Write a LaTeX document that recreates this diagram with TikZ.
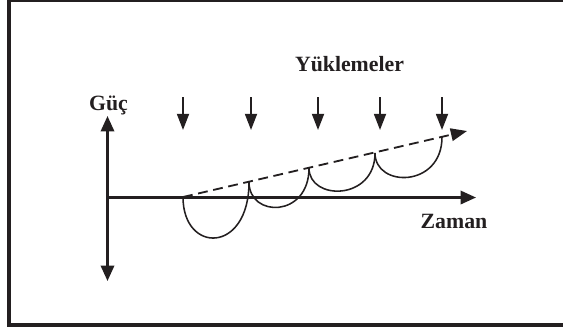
\documentclass[tikz,border=0pt]{standalone}
\usepackage{fontspec}
\setmainfont{Liberation Serif}
\usetikzlibrary{arrows.meta}
\begin{document}
\begin{tikzpicture}[x=0.025cm, y=-0.025cm]
            % Define the colors
            \definecolor{inkcolor}{RGB}{35, 31, 32}

            % Define the styles
            \tikzset{
                axisline/.style={draw=inkcolor, line width=1.7pt, -{Triangle[length=11pt, width=9.5pt]}},
                loadarrow/.style={draw=inkcolor, line width=1.4pt, -{Triangle[length=11.5pt, width=8.5pt]}},
                trendline/.style={draw=inkcolor, line width=1.3pt, dash pattern=on 7pt off 4pt, -{Triangle[length=11.5pt, width=9pt]}},
                swing/.style={draw=inkcolor, line width=1.1pt},
                label/.style={text=inkcolor, font=\fontsize{15.5}{18}\selectfont\bfseries, inner sep=0pt, anchor=base}
            }

            \useasboundingbox (0,0) rectangle (563,332);

            % Draw the frame
            \draw[draw=inkcolor, line width=2.4pt] (9,0.5) rectangle (575,325);

            % Draw the axes
            \coordinate (origin) at (107.5,197.5);
            \coordinate (powertop) at (107.5,116);
            \coordinate (powerbottom) at (107.5,281);
            \coordinate (timeend) at (476,197.5);
            \draw[axisline] (origin) -- (powertop);
            \draw[axisline] (origin) -- (powerbottom);
            \draw[axisline] (origin) -- (timeend);

            % Draw the labels
            \node[label] (guc) at (108.5,110.5) {Güç};
            \node[label] (zaman) at (454,228.3) {Zaman};
            \node[label] (yuklemeler) at (349.5,71.7) {Yüklemeler};

            % Draw the load arrows
            \foreach \i/\x in {1/183, 2/251, 3/318, 4/380, 5/442} {
                \coordinate (load\i top) at (\x,97);
                \coordinate (load\i tip) at (\x,130);
                \draw[loadarrow] (load\i top) -- (load\i tip);
            }

            % Draw the trend line
            \coordinate (p0) at (183,197);
            \coordinate (p1) at (249,182);
            \coordinate (p2) at (309,168);
            \coordinate (p3) at (375,153);
            \coordinate (p4) at (442,137);
            \coordinate (trendend) at (467,131);
            \draw[trendline] (p0) -- (trendend);

            % Draw the swings between the loads
            \draw[swing] (p0) .. controls +(0,57) and +(0,72) .. (p1);
            \draw[swing] (p1) .. controls +(0,36) and +(0,50) .. (p2);
            \draw[swing] (p2) .. controls +(0,33) and +(0,48) .. (p3);
            \draw[swing] (p3) .. controls +(0,35) and +(0,51) .. (p4);

        \end{tikzpicture}
\end{document}
